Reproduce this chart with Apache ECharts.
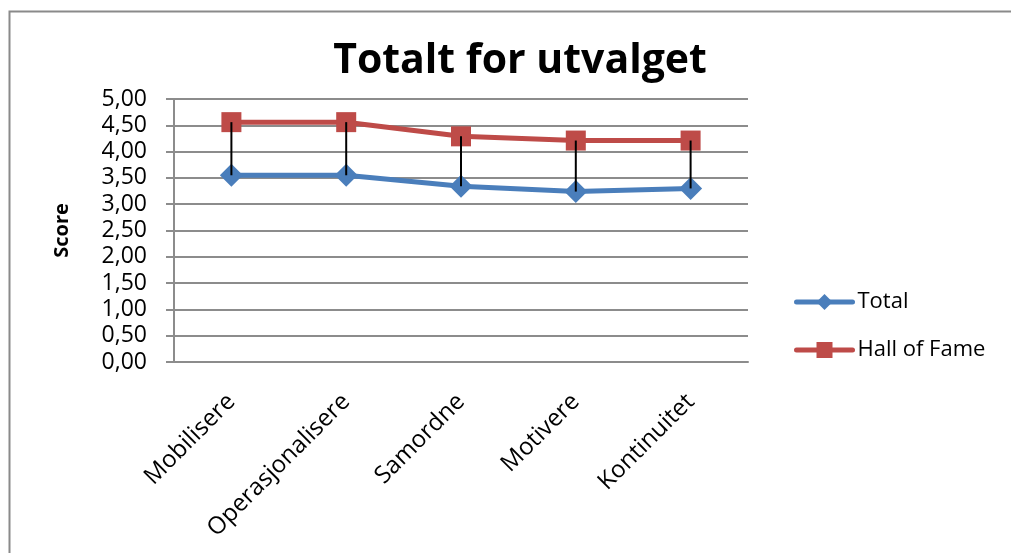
<!DOCTYPE html>
<html>
<head>
<meta charset="utf-8">
<script src="https://cdn.jsdelivr.net/npm/echarts@6/dist/echarts.min.js"></script>
<style>
  html, body { margin: 0; padding: 0; background: #ffffff; }
  #chart { width: 1011px; height: 553px; }
</style>
</head>
<body>
<div id="chart"></div>
<script>
// Categories and scores
const categories = ['Mobilisere', 'Operasjonalisere', 'Samordne', 'Motivere', 'Kontinuitet'];
const totalScores = [3.55, 3.55, 3.34, 3.24, 3.30];
const hallOfFameScores = [4.56, 4.56, 4.29, 4.21, 4.21];
const seriesNames = ['Total', 'Hall of Fame'];
const titleText = 'Totalt for utvalget';
const yAxisTitle = 'Score';

const FONT = '"Open Sans", "Noto Sans", sans-serif';
const GRID_COLOR = '#8c8c8c';
const BLUE = '#4a7ebb';
const RED = '#be4b48';

// High-low connectors between the two series at each category
const dropData = categories.map((c, i) => [i, hallOfFameScores[i], totalScores[i]]);

const chart = echarts.init(document.getElementById('chart'), null, { renderer: 'canvas' });

chart.setOption({
  backgroundColor: '#ffffff',
  animation: false,
  graphic: [{
    type: 'rect',
    shape: { x: 9.5, y: 11.5, width: 1100, height: 700 },
    style: { fill: 'none', stroke: '#8a8a8a', lineWidth: 2 },
    z: -10
  }],
  title: {
    text: titleText,
    left: 515,
    textAlign: 'center',
    top: 36,
    textStyle: { fontFamily: FONT, fontWeight: 'bold', fontSize: 41, color: '#000000' }
  },
  legend: {
    orient: 'vertical',
    left: 789,
    top: 286,
    itemWidth: 56,
    itemHeight: 20,
    itemGap: 26,
    textStyle: { fontFamily: FONT, fontSize: 22, color: '#000000' },
    data: [
      { name: seriesNames[0], lineStyle: { width: 5, cap: 'round', color: BLUE } },
      { name: seriesNames[1], lineStyle: { width: 5, cap: 'round', color: RED } }
    ]
  },
  grid: { left: 174, right: 263, top: 99, bottom: 191, containLabel: false },
  xAxis: {
    type: 'category',
    data: categories,
    boundaryGap: true,
    axisLine: { show: true, lineStyle: { color: GRID_COLOR, width: 2 } },
    axisTick: { show: false },
    axisLabel: {
      rotate: 45,
      margin: 36,
      fontFamily: FONT,
      fontSize: 24,
      color: '#000000'
    }
  },
  yAxis: {
    type: 'value',
    min: 0,
    max: 5,
    interval: 0.5,
    name: yAxisTitle,
    nameLocation: 'middle',
    nameGap: 102,
    nameRotate: 90,
    nameTextStyle: { fontFamily: FONT, fontWeight: 'bold', fontSize: 20, color: '#000000' },
    axisLine: { show: true, lineStyle: { color: GRID_COLOR, width: 2 } },
    axisTick: { show: true, inside: false, length: 8, lineStyle: { color: GRID_COLOR, width: 2 } },
    splitLine: { show: true, lineStyle: { color: GRID_COLOR, width: 2 } },
    axisLabel: {
      margin: 27,
      fontFamily: FONT,
      fontSize: 23,
      color: '#000000',
      formatter: v => v.toFixed(2).replace('.', ',')
    }
  },
  series: [
    {
      name: seriesNames[0],
      type: 'line',
      data: totalScores,
      symbol: 'diamond',
      symbolSize: 23,
      lineStyle: { color: BLUE, width: 5 },
      itemStyle: { color: BLUE },
      z: 3
    },
    {
      name: seriesNames[1],
      type: 'line',
      data: hallOfFameScores,
      symbol: 'rect',
      symbolSize: 20,
      lineStyle: { color: RED, width: 5 },
      itemStyle: { color: RED },
      z: 3
    },
    {
      type: 'custom',
      data: dropData,
      z: 5,
      silent: true,
      renderItem: (params, api) => {
        const top = api.coord([api.value(0), api.value(1)]);
        const bottom = api.coord([api.value(0), api.value(2)]);
        return {
          type: 'line',
          shape: { x1: top[0], y1: top[1], x2: bottom[0], y2: bottom[1] },
          style: { stroke: '#000000', lineWidth: 2 }
        };
      }
    }
  ]
});
</script>
</body>
</html>
